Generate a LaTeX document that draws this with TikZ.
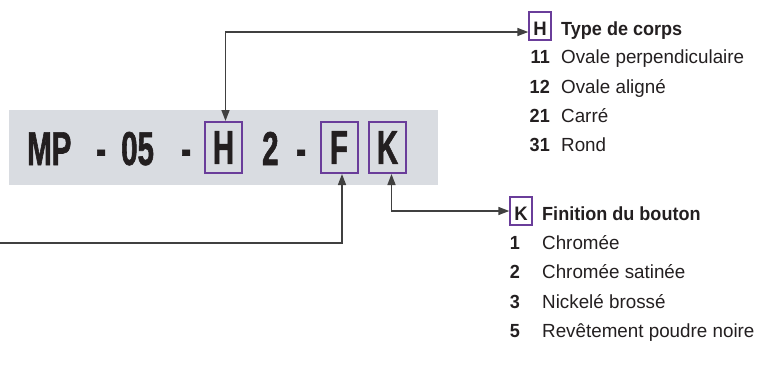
\documentclass[tikz,border=0pt]{standalone}
\usepackage{fontspec}
\setmainfont{Liberation Sans}
\newfontfamily\codefont[FakeStretch=0.62, FakeBold=1.2]{Liberation Sans}
\newfontfamily\listfont[FakeStretch=0.95]{Liberation Sans}
\newfontfamily\itemfont[FakeStretch=0.99]{Liberation Sans}
\usetikzlibrary{arrows.meta}

\definecolor{bandgray}{HTML}{D9DCE1}
\definecolor{boxpurple}{HTML}{6A3D9A}
\definecolor{inkblack}{HTML}{231F20}
\definecolor{linkgray}{HTML}{404040}

\begin{document}
\begin{tikzpicture}[x=1pt, y=-1pt,
        codetext/.style={font=\codefont\bfseries\fontsize{47.5}{50}\selectfont, text=inkblack, inner sep=0pt, anchor=base west},
        codebox/.style={draw=boxpurple, line width=2pt, inner sep=0pt, minimum width=37pt, minimum height=51pt,
            font=\codefont\bfseries\fontsize{47.5}{50}\selectfont, text=inkblack},
        labelbox/.style={draw=boxpurple, line width=1.4pt, inner sep=0pt, minimum width=22pt, minimum height=28pt,
            text height=23pt, text depth=5pt, anchor=base, font=\listfont\bfseries\fontsize{19.5}{21}\selectfont, text=inkblack},
        title/.style={font=\listfont\bfseries\fontsize{19}{21}\selectfont, text=inkblack, inner sep=0pt, anchor=base west},
        num/.style={font=\listfont\bfseries\fontsize{19}{21}\selectfont, text=inkblack, inner sep=0pt, anchor=base east},
        item/.style={font=\itemfont\fontsize{19}{21}\selectfont, text=inkblack, inner sep=0pt, anchor=base west},
        link/.style={draw=linkgray, line width=1.5pt},
        tip/.tip={Triangle[length=11pt, width=8pt]}]
    \useasboundingbox (0,0) rectangle (760,367);

    % code band
    \fill[bandgray] (9,110) rectangle (438,185);
    \node[codetext] (mp)    at (27,165)  {MP};
    \node[codetext] (dasha) at (96,165)  {-};
    \node[codetext] (zf)    at (121,165) {05};
    \node[codetext] (dashb) at (181,165) {-};
    \node[codebox]  (hbox)  at (223.5,147.5) {H};
    \node[codetext] (two)   at (262,165) {2};
    \node[codetext] (dashc) at (296,165) {-};
    \node[codebox]  (fbox)  at (339,147.5) {F};
    \node[codebox]  (kbox)  at (387.5,147.5) {K};

    % type de corps
    \node[labelbox] (hlabel) at (540,35) {H};
    \node[title] (htitle) at (561,35) {Type de corps};
    \node[num]  (hna) at (550,63)  {11};
    \node[item] (hta) at (561,63)  {Ovale perpendiculaire};
    \node[num]  (hnb) at (550,93)  {12};
    \node[item] (htb) at (561,93)  {Ovale aligné};
    \node[num]  (hnc) at (550,122) {21};
    \node[item] (htc) at (561,122) {Carré};
    \node[num]  (hnd) at (550,151) {31};
    \node[item] (htd) at (561,151) {Rond};

    % finition du bouton
    \node[labelbox] (klabel) at (521,220) {K};
    \node[title] (ktitle) at (542,220) {Finition du bouton};
    \node[num]  (kna) at (520,249) {1};
    \node[item] (kta) at (542,249) {Chromée};
    \node[num]  (knb) at (520,278) {2};
    \node[item] (ktb) at (542,278) {Chromée satinée};
    \node[num]  (knc) at (520,308) {3};
    \node[item] (ktc) at (542,308) {Nickelé brossé};
    \node[num]  (knd) at (520,337) {5};
    \node[item] (ktd) at (542,337) {Revêtement poudre noire};

    % connectors
    \coordinate (fstart) at (0,243);
    \draw[link, {tip}-{tip}] ([xshift=2pt]hbox.north) |- ([yshift=-6pt]hlabel.west);
    \draw[link, {tip}-{tip}] ([xshift=4pt]kbox.south) |- (klabel.west);
    \draw[link, -{tip}] (fstart) -| ([xshift=3pt]fbox.south);
\end{tikzpicture}
\end{document}
